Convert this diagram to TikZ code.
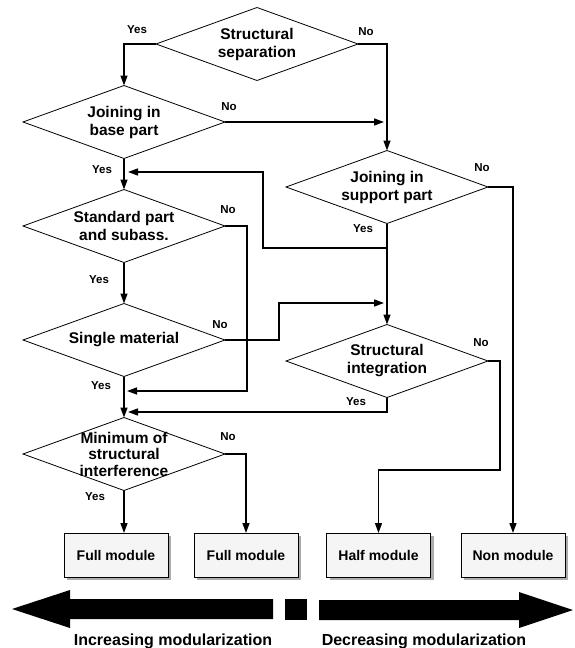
\documentclass[tikz,border=0pt]{standalone}
\usepackage{fontspec}
\setmainfont{Liberation Sans}
\usetikzlibrary{shapes.geometric, arrows.meta, shadows}
\begin{document}
\begin{tikzpicture}[x=1pt, y=-1pt,
  dia/.style={draw, line width=0.8pt, shape=diamond, minimum width=202pt, minimum height=73pt, inner sep=0pt, outer sep=0pt},
  dlab/.style={font=\bfseries\fontsize{15.5}{18}\selectfont, align=center, inner sep=0pt},
  yn/.style={font=\bfseries\fontsize{11.5}{13}\selectfont, inner sep=0pt},
  conn/.style={line width=1.4pt},
  arr/.style={conn, -{Triangle[length=10pt,width=7pt]}},
  result/.style={draw, line width=0.8pt, fill=gray!8, minimum width=104pt, minimum height=44pt, inner sep=0pt, outer sep=0pt, font=\bfseries\fontsize{14}{16}\selectfont, drop shadow={shadow xshift=3pt, shadow yshift=-3pt, fill=gray!65, opacity=1}},
  bottomtext/.style={font=\bfseries\fontsize{16}{19}\selectfont, inner sep=0pt}
]
\useasboundingbox (0,0) rectangle (574,648);

% decision diamonds
\node[dia, label={[dlab]center:{Structural\\separation}}] (d1) at (257,44) {};
\node[dia, label={[dlab]center:{Joining in\\base part}}] (d2) at (124,122) {};
\node[dia, label={[dlab]center:{Joining in\\support part}}] (d3) at (387,187) {};
\node[dia, label={[dlab]center:{Standard part\\and subass.}}] (d4) at (124,226) {};
\node[dia, label={[dlab]center:{Single material}}] (d5) at (124,340) {};
\node[dia, label={[dlab]center:{Structural\\integration}}] (d6) at (387,361) {};
\node[dia, label={[dlab, font=\bfseries\fontsize{15.5}{16.5}\selectfont]center:{Minimum of\\structural\\interference}}] (d7) at (124,454) {};

% result boxes
\node[result] (fm1) at (116,555) {Full module};
\node[result] (fm2) at (246,555) {Full module};
\node[result] (hm) at (378.5,555) {Half module};
\node[result] (nm) at (513,555) {Non module};

% helper coordinates
\coordinate (m1) at (d2.east -| d3.north);
\coordinate (j1) at (387,248);
\coordinate (j1b) at (263,248);
\coordinate (j1c) at (263,172);
\coordinate (k1) at (247,391);
\coordinate (s1) at (279,303);
\coordinate (t1) at (387,412);
\coordinate (u1) at (500,470);

% connectors
\draw[arr] (d1.west) -| (d2.north);
\draw[arr] (d1.east) -| (d3.north);
\draw[arr, shorten >=3pt] (d2.east) -- (m1);
\draw[arr] (d2.south) -- (d4.north);
\draw[arr] (d3.south) -- (d6.north);
\draw[arr, shorten >=4pt] (j1) -- (j1b) -- (j1c) -- (j1c -| d2.south);
\draw[arr] (d3.east) -| (nm.north);
\draw[arr, shorten >=3pt] (d4.east) -| (k1) -- (k1 -| d5.south);
\draw[arr] (d4.south) -- (d5.north);
\draw[arr, shorten >=3pt] (d5.east) -| (s1) -- (s1 -| d3.south);
\draw[arr] (d5.south) -- (d7.north);
\draw[arr, shorten >=4pt] (d6.south) -- (t1) -- (t1 -| d5.south);
\draw[arr] (d6.east) -| (u1) -| (hm.north);
\draw[arr] (d7.east) -| (fm2.north);
\draw[arr] (d7.south) -- (d7.south |- fm1.north);

% yes / no labels
\node[yn] (y1) at (137,30) {Yes};
\node[yn] (n1) at (366,32) {No};
\node[yn] (n2) at (229,107) {No};
\node[yn] (y2) at (102,170) {Yes};
\node[yn] (n3) at (482,168) {No};
\node[yn] (y3) at (363,229) {Yes};
\node[yn] (n4) at (228,210) {No};
\node[yn] (y4) at (99,280) {Yes};
\node[yn] (n5) at (220,325) {No};
\node[yn] (y5) at (101,386) {Yes};
\node[yn] (n6) at (481,343) {No};
\node[yn] (y6) at (356,402) {Yes};
\node[yn] (n7) at (228,437) {No};
\node[yn] (y7) at (95,497) {Yes};

% modularization scale
\fill (12,609) -- (70,590) -- (70,599) -- (273,599) -- (273,619) -- (70,619) -- (70,628) -- cycle;
\fill (285,599) rectangle (307,620);
\fill (573,610) -- (519,592) -- (519,600) -- (319,600) -- (319,620) -- (519,620) -- (519,628) -- cycle;
\node[bottomtext] (inc) at (173,641) {Increasing modularization};
\node[bottomtext] (dec) at (424,641) {Decreasing modularization};
\end{tikzpicture}
\end{document}
